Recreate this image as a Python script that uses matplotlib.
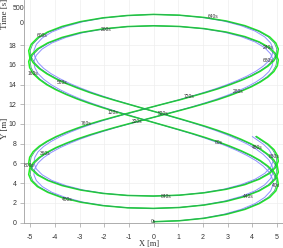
import matplotlib
matplotlib.use("Agg")
import matplotlib.pyplot as plt

# measured trajectory (dark green), sampled every 5 s from 0 s to 900 s (+ end point)
x_meas = [0.00,
    1.05, 2.04, 2.92, 3.66, 4.24, 4.65, 4.90, 5.00, 4.96, 4.82, 4.59, 4.28, 3.91, 3.50, 3.05, 2.58, 2.08, 1.57, 1.05, 0.53, 0.00,
    -0.53, -1.05, -1.57, -2.08, -2.58, -3.05, -3.50, -3.91, -4.28, -4.59, -4.82, -4.96, -5.00, -4.90, -4.65, -4.24, -3.66, -2.92, -2.04, -1.05, 0.00,
    1.05, 2.04, 2.92, 3.66, 4.24, 4.65, 4.90, 5.00, 4.96, 4.82, 4.59, 4.28, 3.91, 3.50, 3.05, 2.58, 2.08, 1.57, 1.05, 0.53, 0.00,
    -0.53, -1.05, -1.57, -2.08, -2.58, -3.05, -3.50, -3.91, -4.28, -4.59, -4.82, -4.96, -5.00, -4.90, -4.65, -4.24, -3.66, -2.92, -2.04, -1.05, 0.00,
    1.05, 2.04, 2.92, 3.66, 4.24, 4.65, 4.90, 5.00, 4.96, 4.82, 4.59, 4.28, 3.91, 3.50, 3.05, 2.58, 2.08, 1.57, 1.05, 0.53, 0.00,
    -0.53, -1.05, -1.57, -2.08, -2.58, -3.05, -3.50, -3.91, -4.28, -4.59, -4.82, -4.96, -5.00, -4.90, -4.65, -4.24, -3.66, -2.92, -2.04, -1.05, 0.00,
    1.05, 2.04, 2.92, 3.66, 4.24, 4.65, 4.90, 5.00, 4.96, 4.82, 4.59, 4.28, 3.91, 3.50, 3.05, 2.58, 2.08, 1.57, 1.05, 0.53, 0.00,
    -0.53, -1.05, -1.57, -2.08, -2.58, -3.05, -3.50, -3.91, -4.28, -4.59, -4.82, -4.96, -5.00, -4.90, -4.65, -4.24, -3.66, -2.92, -2.04, -1.05, 0.00,
    1.05, 2.04, 2.92, 3.66, 4.24, 4.65, 4.90, 5.00, 4.96, 4.82, 4.59, 4.28, 4.13]

y_meas = [0.10, 0.20, 0.45, 0.85, 1.35, 1.94, 2.57, 3.22, 3.88, 4.52, 5.14, 5.73, 6.29, 6.81, 7.30, 7.76, 8.20, 8.62, 9.02, 9.40, 9.78, 10.16,
    10.53, 10.91, 11.29, 11.69, 12.10, 12.53, 12.99, 13.47, 13.98, 14.53, 15.10, 15.70, 16.33, 16.97, 17.60, 18.21, 18.77, 19.26, 19.63, 19.87, 19.95,
    19.88, 19.66, 19.31, 18.85, 18.31, 17.72, 17.10, 16.49, 15.89, 15.31, 14.76, 14.25, 13.76, 13.31, 12.88, 12.47, 12.09, 11.72, 11.37, 11.02, 10.68,
    10.33, 9.98, 9.63, 9.26, 8.88, 8.48, 8.05, 7.60, 7.11, 6.60, 6.05, 5.48, 4.88, 4.27, 3.66, 3.08, 2.54, 2.08, 1.73, 1.51, 1.45,
    1.54, 1.79, 2.17, 2.66, 3.23, 3.84, 4.48, 5.12, 5.75, 6.35, 6.92, 7.47, 7.98, 8.46, 8.92, 9.35, 9.76, 10.15, 10.53, 10.91, 11.28,
    11.65, 12.03, 12.41, 12.80, 13.21, 13.65, 14.10, 14.58, 15.09, 15.63, 16.21, 16.81, 17.43, 18.07, 18.71, 19.32, 19.88, 20.37, 20.75, 20.99, 21.10,
    21.02, 20.79, 20.43, 19.96, 19.41, 18.82, 18.20, 17.59, 16.99, 16.41, 15.86, 15.34, 14.85, 14.40, 13.97, 13.56, 13.18, 12.81, 12.45, 12.11, 11.76,
    11.42, 11.07, 10.72, 10.36, 9.98, 9.58, 9.16, 8.71, 8.23, 7.73, 7.19, 6.63, 6.04, 5.45, 4.85, 4.28, 3.76, 3.31, 2.97, 2.76, 2.70,
    2.79, 3.03, 3.39, 3.86, 4.41, 5.00, 5.62, 6.23, 6.83, 7.41, 7.96, 8.48, 8.72]

# reference trajectory (light blue), same sample times, slightly narrower turns
x_ref = [0.00,
    1.02, 1.98, 2.84, 3.55, 4.12, 4.51, 4.75, 4.85, 4.81, 4.68, 4.45, 4.15, 3.79, 3.39, 2.96, 2.50, 2.02, 1.53, 1.02, 0.51, 0.00,
    -0.51, -1.02, -1.53, -2.02, -2.50, -2.96, -3.39, -3.79, -4.15, -4.45, -4.68, -4.81, -4.85, -4.75, -4.51, -4.12, -3.55, -2.84, -1.98, -1.02, 0.00,
    1.02, 1.98, 2.84, 3.55, 4.12, 4.51, 4.75, 4.85, 4.81, 4.68, 4.45, 4.15, 3.79, 3.39, 2.96, 2.50, 2.02, 1.53, 1.02, 0.51, 0.00,
    -0.51, -1.02, -1.53, -2.02, -2.50, -2.96, -3.39, -3.79, -4.15, -4.45, -4.68, -4.81, -4.85, -4.75, -4.51, -4.12, -3.55, -2.84, -1.98, -1.02, 0.00,
    1.02, 1.98, 2.84, 3.55, 4.12, 4.51, 4.75, 4.85, 4.81, 4.68, 4.45, 4.15, 3.79, 3.39, 2.96, 2.50, 2.02, 1.53, 1.02, 0.51, 0.00,
    -0.51, -1.02, -1.53, -2.02, -2.50, -2.96, -3.39, -3.79, -4.15, -4.45, -4.68, -4.81, -4.85, -4.75, -4.51, -4.12, -3.55, -2.84, -1.98, -1.02, 0.00,
    1.02, 1.98, 2.84, 3.55, 4.12, 4.51, 4.75, 4.85, 4.81, 4.68, 4.45, 4.15, 3.79, 3.39, 2.96, 2.50, 2.02, 1.53, 1.02, 0.51, 0.00,
    -0.51, -1.02, -1.53, -2.02, -2.50, -2.96, -3.39, -3.79, -4.15, -4.45, -4.68, -4.81, -4.85, -4.75, -4.51, -4.12, -3.55, -2.84, -1.98, -1.02, 0.00,
    1.02, 1.98, 2.84, 3.55, 4.12, 4.51, 4.75, 4.85, 4.81, 4.68, 4.45, 4.15, 4.01]
y_ref = y_meas

# estimated trajectory (bright green), same sample times, slightly wider turns
x_est = [0.00,
    1.06, 2.06, 2.96, 3.71, 4.29, 4.71, 4.96, 5.06, 5.02, 4.88, 4.64, 4.33, 3.96, 3.54, 3.09, 2.61, 2.11, 1.59, 1.07, 0.53, 0.00,
    -0.53, -1.07, -1.59, -2.11, -2.61, -3.09, -3.54, -3.96, -4.33, -4.64, -4.88, -5.02, -5.06, -4.96, -4.71, -4.29, -3.71, -2.96, -2.06, -1.06, 0.00,
    1.06, 2.06, 2.96, 3.71, 4.29, 4.71, 4.96, 5.06, 5.02, 4.88, 4.64, 4.33, 3.96, 3.54, 3.09, 2.61, 2.11, 1.59, 1.07, 0.53, 0.00,
    -0.53, -1.07, -1.59, -2.11, -2.61, -3.09, -3.54, -3.96, -4.33, -4.64, -4.88, -5.02, -5.06, -4.96, -4.71, -4.29, -3.71, -2.96, -2.06, -1.06, 0.00,
    1.06, 2.06, 2.96, 3.71, 4.29, 4.71, 4.96, 5.06, 5.02, 4.88, 4.64, 4.33, 3.96, 3.54, 3.09, 2.61, 2.11, 1.59, 1.07, 0.53, 0.00,
    -0.53, -1.07, -1.59, -2.11, -2.61, -3.09, -3.54, -3.96, -4.33, -4.64, -4.88, -5.02, -5.06, -4.96, -4.71, -4.29, -3.71, -2.96, -2.06, -1.06, 0.00,
    1.06, 2.06, 2.96, 3.71, 4.29, 4.71, 4.96, 5.06, 5.02, 4.88, 4.64, 4.33, 3.96, 3.54, 3.09, 2.61, 2.11, 1.59, 1.07, 0.53, 0.00,
    -0.53, -1.07, -1.59, -2.11, -2.61, -3.09, -3.54, -3.96, -4.33, -4.64, -4.88, -5.02, -5.06, -4.96, -4.71, -4.29, -3.71, -2.96, -2.06, -1.06, 0.00,
    1.06, 2.06, 2.96, 3.71, 4.29, 4.71, 4.96, 5.06, 5.02, 4.88, 4.64, 4.33, 4.18]
y_est = y_meas

# time annotations along the path
time_labels = ["0s", "40s", "80s", "120s", "160s", "200s", "240s", "280s", "320s", "360s", "400s", "440s",
               "480s", "520s", "560s", "600s", "640s", "680s", "720s", "760s", "800s", "840s", "880s"]
label_x = [0.0, 4.95, 2.64, -1.63, -4.9, -1.9, 4.66, 3.45, -0.66, -4.4, -3.5, 3.85,
           4.2, 0.4, -3.7, -4.5, 2.4, 4.66, 1.45, -2.75, -5.05, 0.5, 4.9]
label_y = [0.1, 3.8, 8.1, 11.2, 15.1, 19.6, 17.7, 13.3, 10.3, 7.0, 2.4, 2.7,
           7.6, 11.1, 14.2, 19.0, 20.9, 16.4, 12.8, 10.0, 5.8, 2.7, 6.7]

x_ticks = [-5, -4, -3, -2, -1, 0, 1, 2, 3, 4, 5]
y_ticks = [0, 2, 4, 6, 8, 10, 12, 14, 16, 18]
time_ticks = ["500", "0"]

W, H = 283, 248
fig = plt.figure(figsize=(W / 100, H / 100), dpi=100)
fig.patch.set_facecolor("white")
ax = fig.add_axes([24 / W, 24.7 / H, 259 / W, 223.3 / H])

ax.plot(x_ref, y_ref, color="#8f8fff", lw=0.7, zorder=2)
ax.plot(x_est, y_est, color="#22ee22", lw=1.1, zorder=3)
ax.plot(x_meas, y_meas, color="#2a9a6a", lw=0.5, zorder=4)

for s, lx, ly in zip(time_labels, label_x, label_y):
    ax.text(lx, ly, s, fontsize=3.5, ha="center", va="center", color="#333333",
            family="Liberation Sans", zorder=5)

ax.set_xlim(-5.25, 5.25)
ax.set_ylim(-0.06, 22.56)
ax.set_xticks(x_ticks)
ax.set_yticks(y_ticks)
ax.set_xticklabels([str(v) for v in x_ticks], family="Liberation Sans")
ax.set_yticklabels([str(v) for v in y_ticks], family="Liberation Sans")
ax.grid(True, color="#eeeeee", lw=0.5)
ax.set_axisbelow(True)
for s in ["top", "right"]:
    ax.spines[s].set_visible(False)
for s in ["left", "bottom"]:
    ax.spines[s].set_color("#a0a0a0")
    ax.spines[s].set_linewidth(0.6)
ax.tick_params(axis="x", direction="out", length=2.9, width=0.5, colors="#a0a0a0",
               labelcolor="#333333", labelsize=5, pad=4.5)
ax.tick_params(axis="y", direction="out", length=2.9, width=0.5, colors="#a0a0a0",
               labelcolor="#333333", labelsize=5, pad=2.5)

fig.text(149 / W, 1 - 244 / H, "X [m]", ha="center", va="center", fontsize=6,
         family="Liberation Serif", color="#333333")
fig.text(5 / W, 1 - 128 / H, "Y [m]", ha="center", va="center", fontsize=6.5,
         family="Liberation Serif", color="#333333", rotation=90)
fig.text(5 / W, 1 - 14 / H, "Time [s]", ha="center", va="center", fontsize=6.5,
         family="Liberation Serif", color="#333333", rotation=90)
fig.text(24 / W, 1 - 8.3 / H, time_ticks[0], ha="right", va="center", fontsize=5,
         family="Liberation Sans", color="#333333")
fig.text(24 / W, 1 - 23.3 / H, time_ticks[1], ha="right", va="center", fontsize=5,
         family="Liberation Sans", color="#333333")

fig.savefig("out.png", dpi=100, facecolor="white")
